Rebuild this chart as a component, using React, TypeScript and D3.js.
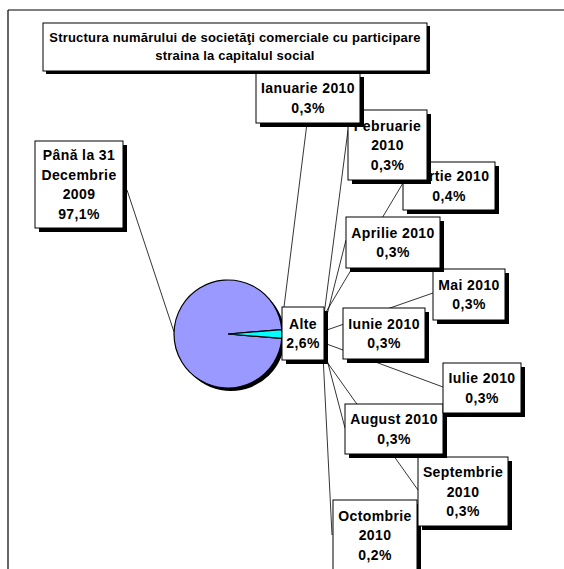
import React from "react";
import * as d3 from "d3";

// ---------- data ----------
const titleLines = [
  "Structura numărului de societăţi comerciale cu participare",
  "straina la capitalul social",
];
const mainCategories = ["Până la 31 Decembrie 2009", "Alte"];
const mainValues = [97.1, 2.6];
const monthCategories = [
  "Ianuarie 2010",
  "Februarie 2010",
  "Martie 2010",
  "Aprilie 2010",
  "Mai 2010",
  "Iunie 2010",
  "Iulie 2010",
  "August 2010",
  "Septembrie 2010",
  "Octombrie 2010",
];
const monthValues = [0.3, 0.3, 0.4, 0.3, 0.3, 0.3, 0.3, 0.3, 0.3, 0.2];

// ---------- layout ----------
const W = 564;
const H = 569;
const FONT = "'Liberation Sans', Arial, Helvetica, sans-serif";
const PIE_CX = 228;
const PIE_CY = 334;
const PIE_R = 54;
const SHADOW = 4;
const LH = 19.5;

type Box = [number, number, number, number];
interface LabelLayout {
  box: Box;
  words: number[]; // words per line of the category
  lead?: [[number, number], [number, number]];
}

const mainLabelLayout: LabelLayout[] = [
  { box: [35, 141, 123, 228], words: [3, 1, 1] },
  { box: [282, 307, 324, 360], words: [1] },
];
const mainLeaderAngle = -1.534;
const mainLeaderStart: [number, number] = [127, 190];

const monthLabelLayout: LabelLayout[] = [
  { box: [256, 73, 360, 123], words: [2], lead: [[307, 123], [283, 315]] },
  { box: [348, 110, 427, 180], words: [1, 1], lead: [[348, 130], [324, 315]] },
  { box: [403, 162, 495, 210], words: [2], lead: [[403, 183], [326, 312]] },
  { box: [346, 217, 440, 268], words: [2], lead: [[346, 240], [327, 315]] },
  { box: [433, 269, 505, 320], words: [2], lead: [[433, 293], [324, 331]] },
  { box: [343, 308, 425, 359], words: [2] },
  { box: [443, 363, 521, 413], words: [2], lead: [[443, 387], [324, 343]] },
  { box: [345, 404, 443, 454], words: [2], lead: [[345, 428], [325, 352]] },
  { box: [418, 457, 508, 526], words: [1, 1], lead: [[418, 490], [322, 355]] },
  { box: [333, 500, 417, 570], words: [1, 1], lead: [[332, 535], [323, 355]] },
];

const fmtPct = (v: number) => d3.format(".1f")(v).replace(".", ",") + "%";

function splitWords(cat: string, words: number[]): string[] {
  const parts = cat.split(" ");
  const out: string[] = [];
  let i = 0;
  for (const n of words) {
    out.push(parts.slice(i, i + n).join(" "));
    i += n;
  }
  if (i < parts.length) out.push(parts.slice(i).join(" "));
  return out;
}

function LabelBox({ layout, lines }: { layout: LabelLayout; lines: string[] }) {
  const [x0, y0, x1, y1] = layout.box;
  const cx = (x0 + x1) / 2;
  const cy = (y0 + y1) / 2;
  const first = cy - ((lines.length - 1) / 2) * LH + 5;
  return (
    <g>
      <rect x={x0 + SHADOW} y={y0 + SHADOW} width={x1 - x0} height={y1 - y0} fill="#000" />
      <rect x={x0} y={y0} width={x1 - x0} height={y1 - y0} fill="#fff" stroke="#000" strokeWidth={1} />
      {lines.map((t, i) => (
        <text
          key={i}
          x={cx}
          y={first + i * LH}
          textAnchor="middle"
          fontFamily={FONT}
          fontWeight="bold"
          fontSize={14}
          letterSpacing={0.4}
          fill="#000"
        >
          {t}
        </text>
      ))}
    </g>
  );
}

export default function App() {
  const total = d3.sum(mainValues);
  const otherAngle = (mainValues[1] / total) * 2 * Math.PI;
  const start = Math.PI / 2 + otherAngle / 2;
  const pie = d3
    .pie<number>()
    .sort(null)
    .value((d) => d)
    .startAngle(start)
    .endAngle(start + 2 * Math.PI);
  const arcs = pie(mainValues);
  const arc = d3.arc<d3.PieArcDatum<number>>().innerRadius(0).outerRadius(PIE_R);
  const colors = ["#9999FF", "#00FFFF"];

  const leadEnd: [number, number] = [
    PIE_CX + PIE_R * Math.sin(mainLeaderAngle),
    PIE_CY - PIE_R * Math.cos(mainLeaderAngle),
  ];

  const monthOrder = monthCategories.map((_, i) => i).reverse();

  return (
    <svg
      width={W}
      height={H}
      style={{ position: "absolute", left: 0, top: 0, background: "#fff" }}
    >
      <rect x={0} y={0} width={W} height={H} fill="#fff" />
      {/* frame */}
      <line x1={8} y1={10} x2={W} y2={10} stroke="#000" strokeWidth={1.2} />
      <line x1={8} y1={10} x2={8} y2={H} stroke="#000" strokeWidth={1.2} />

      {/* leader lines */}
      <line
        x1={mainLeaderStart[0]}
        y1={mainLeaderStart[1]}
        x2={leadEnd[0]}
        y2={leadEnd[1]}
        stroke="#000"
        strokeWidth={0.8}
      />
      {monthLabelLayout.map((l, i) =>
        l.lead ? (
          <line
            key={i}
            x1={l.lead[0][0]}
            y1={l.lead[0][1]}
            x2={l.lead[1][0]}
            y2={l.lead[1][1]}
            stroke="#000"
            strokeWidth={0.8}
          />
        ) : null
      )}

      {/* main pie */}
      <circle cx={PIE_CX + 3} cy={PIE_CY + 3} r={PIE_R} fill="#000" />
      <g transform={`translate(${PIE_CX},${PIE_CY})`}>
        {arcs.map((a, i) => (
          <path key={i} d={arc(a) || ""} fill={colors[i]} stroke="#000" strokeWidth={1.2} strokeLinejoin="miter" />
        ))}
      </g>

      {/* month labels */}
      {monthOrder.map((i) => (
        <LabelBox
          key={i}
          layout={monthLabelLayout[i]}
          lines={[...splitWords(monthCategories[i], monthLabelLayout[i].words), fmtPct(monthValues[i])]}
        />
      ))}

      {/* main labels */}
      {mainCategories.map((c, i) => (
        <LabelBox
          key={c}
          layout={mainLabelLayout[i]}
          lines={[...splitWords(c, mainLabelLayout[i].words), fmtPct(mainValues[i])]}
        />
      ))}

      {/* title */}
      <g>
        <rect x={43 + 3} y={23 + 3} width={384} height={48} fill="#000" />
        <rect x={43} y={23} width={384} height={48} fill="#fff" stroke="#000" strokeWidth={1} />
        {titleLines.map((t, i) => (
          <text
            key={i}
            x={235}
            y={42 + i * 18}
            textAnchor="middle"
            fontFamily={FONT}
            fontWeight="bold"
            fontSize={13}
            letterSpacing={0.2}
            fill="#000"
          >
            {t}
          </text>
        ))}
      </g>
    </svg>
  );
}
